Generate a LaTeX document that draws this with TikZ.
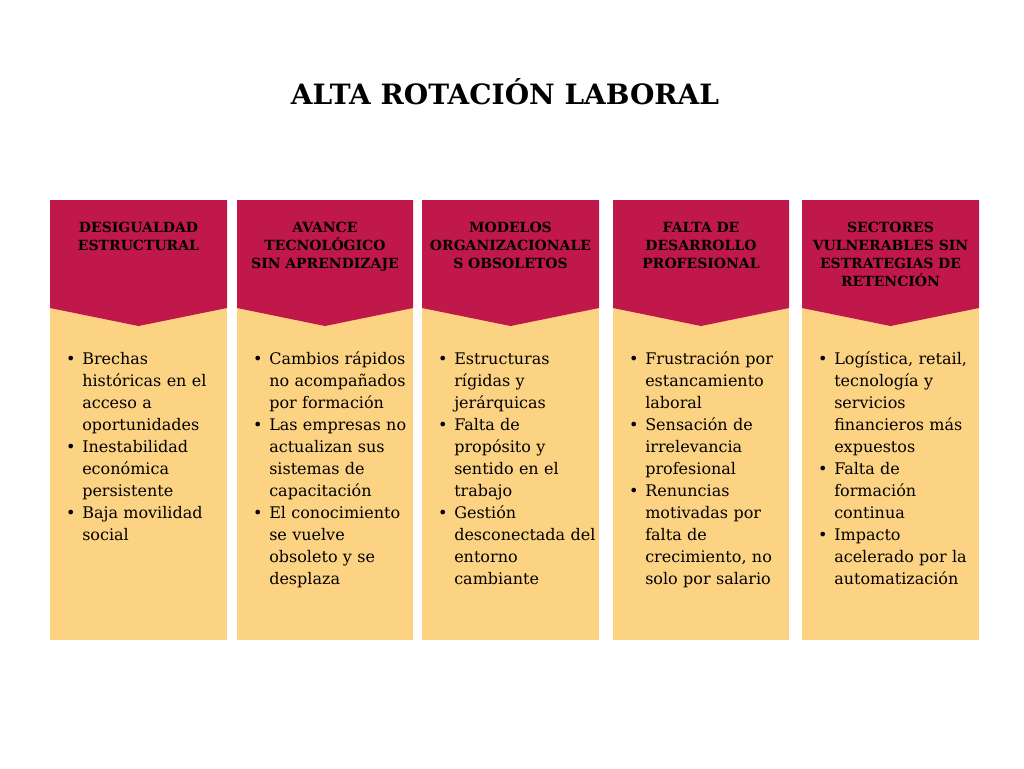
\documentclass[tikz,border=0pt]{standalone}
\usepackage{fontspec}
\setmainfont{DejaVu Serif}
\usepackage{enumitem}
\definecolor{hdrred}{HTML}{C0184A}
\definecolor{bodyyel}{HTML}{FCD283}
\newcommand{\hdrfont}{\bfseries\fontsize{10.5}{13.5}\selectfont}
\newcommand{\bodyfont}{\fontsize{12}{16.5}\selectfont}
\tikzset{hdr/.style={font=\hdrfont,text width=135pt,align=center,anchor=north,inner sep=0pt},
  body/.style={font=\bodyfont,text width=124pt,anchor=north west,inner sep=0pt}}
\begin{document}
\begin{tikzpicture}[x=0.75pt,y=-0.75pt]
  \useasboundingbox (0,0) rectangle (1024,768);
  \node[font=\bfseries\fontsize{21}{26}\selectfont] (title) at (505,92) {ALTA ROTACIÓN LABORAL};
  %% columns
  \foreach \xa/\xb/\n in {50/227/a,237/413/b,422/599/c,613/789/d,802/979/e}{
    \fill[bodyyel] (\xa,308) rectangle (\xb,640);
    \fill[hdrred] (\xa,200) -- (\xb,200) -- (\xb,308) -- ({(\xa+\xb)/2},326) -- (\xa,308) -- cycle;
    \coordinate (h\n) at ({(\xa+\xb)/2},222);
    \coordinate (b\n) at (\xa+12,342);
  }
  %% headers
  \node[hdr] (ha-t) at (ha) {DESIGUALDAD\\ESTRUCTURAL};
  \node[hdr] (hb-t) at (hb) {AVANCE\\TECNOLÓGICO\\SIN APRENDIZAJE};
  \node[hdr] (hc-t) at (hc) {MODELOS\\ORGANIZACIONALE\\S OBSOLETOS};
  \node[hdr] (hd-t) at (hd) {FALTA DE\\DESARROLLO\\PROFESIONAL};
  \node[hdr] (he-t) at (he) {SECTORES\\VULNERABLES SIN\\ESTRATEGIAS DE\\RETENCIÓN};
  %% bullets
  \node[body] (ba-t) at (ba) {\begin{itemize}[leftmargin=15pt,nosep]
    \item Brechas históricas en el acceso a oportunidades
    \item Inestabilidad económica persistente
    \item Baja movilidad social\end{itemize}};
  \node[body] (bb-t) at (bb) {\begin{itemize}[leftmargin=15pt,nosep]
    \item Cambios rápidos no acompañados por formación
    \item Las empresas no actualizan sus sistemas de capacitación
    \item El conocimiento se vuelve obsoleto y se desplaza\end{itemize}};
  \node[body] (bc-t) at (bc) {\begin{itemize}[leftmargin=15pt,nosep]
    \item Estructuras rígidas y jerárquicas
    \item Falta de propósito y sentido en el trabajo
    \item Gestión desconectada del entorno cambiante\end{itemize}};
  \node[body] (bd-t) at (bd) {\begin{itemize}[leftmargin=15pt,nosep]
    \item Frustración por estancamiento laboral
    \item Sensación de irrelevancia profesional
    \item Renuncias motivadas por falta de crecimiento, no solo por salario\end{itemize}};
  \node[body] (be-t) at (be) {\begin{itemize}[leftmargin=15pt,nosep]
    \item Logística, retail, tecnología y servicios financieros más expuestos
    \item Falta de formación continua
    \item Impacto acelerado por la automatización\end{itemize}};
\end{tikzpicture}
\end{document}
